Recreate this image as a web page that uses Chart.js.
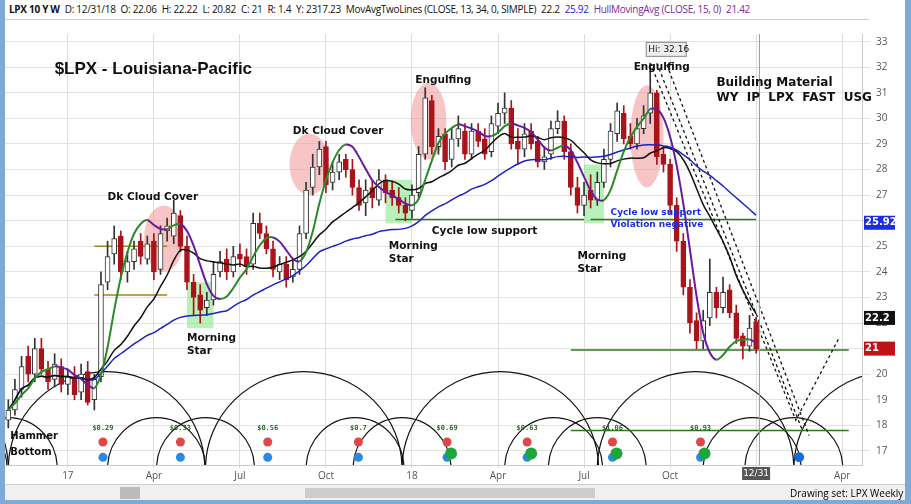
<!DOCTYPE html>
<html><head><meta charset="utf-8">
<script src="https://cdn.jsdelivr.net/npm/chart.js@4.4.1/dist/chart.umd.min.js"></script>
<style>
body{margin:0;width:911px;height:504px;overflow:hidden;background:#fff;font-family:"Open Sans",sans-serif;position:relative}
#frame{position:absolute;left:0;top:0;width:911px;height:504px;box-sizing:border-box;border-left:5px solid #7ea9d8;border-right:6px solid #7ea9d8;border-bottom:4px solid #7ea9d8}
#hdr{position:absolute;left:5px;top:0;width:860px;height:19px;border-bottom:1px solid #ccc;font-size:10px;line-height:19px;white-space:nowrap;color:#111;padding-left:4px;font-family:"Open Sans";letter-spacing:-0.3px}
#hdr span{margin-right:5px}
#cw{position:absolute;left:5px;top:20px;width:893px;height:464px}
#tb{position:absolute;left:5px;top:484px;width:900px;height:16px;background:#f0f0f0;border-top:1px solid #ccc;font-size:10px;line-height:16px}
</style></head><body>
<div id="hdr"><span><b>LPX 10 Y W</b></span><span>D: 12/31/18</span><span>O: 22.06</span><span>H: 22.22</span><span>L: 20.82</span><span>C: 21</span><span>R: 1.4</span><span>Y: 2317.23</span><span>MovAvgTwoLines (CLOSE, 13, 34, 0, SIMPLE)</span><span>22.2</span><span style="color:#2222cc">25.92</span><span style="color:#7a2a9a">HullMovingAvg (CLOSE, 15, 0)</span><span style="color:#7a2a9a">21.42</span></div>
<div id="cw"><canvas id="c"></canvas></div>
<div id="tb"><div style="position:absolute;left:115px;top:2px;width:20px;height:12px;background:#bbb"></div><div style="position:absolute;left:300px;top:3px;width:290px;height:10px;background:#ccc"></div><span style="position:absolute;left:785px">Drawing set: LPX Weekly</span></div>
<div id="frame"></div>
<script>
// weekly bars, index 0 = week of 2016-10-31
const opens=[18.2,18.6,19.4,20.7,20.0,21.0,20.2,19.8,20.3,
19.6,19.9,19.3,20.1,19.0,19.9,23.6,24.7,
25.4,24.0,24.4,25.2,24.5,25.2,24.1,25.6,25.4,
26.2,25.0,23.6,23.1,22.6,22.9,24.0,24.5,
24.0,24.7,24.6,24.3,25.9,25.5,24.9,24.0,24.3,23.8,
24.1,25.5,27.3,28.1,28.9,27.5,27.9,28.4,28.0,27.3,26.7,27.3,26.8,
27.6,27.2,26.9,26.6,26.4,
27.1,28.6,30.7,28.9,29.4,28.4,29.2,29.5,
28.6,29.5,29.2,28.7,29.7,30.2,30.4,29.1,28.8,
29.5,29.1,28.3,28.6,29.6,29.9,28.7,27.3,26.6,
27.2,26.8,27.5,28.4,29.4,30.2,
29.3,29.0,29.6,30.2,31.0,28.6,
28.2,26.6,25.2,23.4,22.1,
21.3,22.2,23.2,22.6,23.3,
22.4,21.5,21.1,22.06];
const highs=[19.0,19.8,20.7,21.1,21.4,21.4,20.5,20.8,20.6,
20.2,20.3,20.4,20.5,20.0,24.0,25.2,25.8,
25.6,24.8,25.2,25.5,25.4,25.5,25.8,26.1,26.8,
26.4,25.4,23.9,23.5,23.2,24.4,24.8,24.9,
25.0,25.1,24.9,26.3,26.3,25.8,25.2,24.6,24.6,24.5,
25.8,27.5,28.6,29.1,29.1,28.3,28.6,28.6,28.4,27.6,27.6,27.6,28.0,
27.8,27.5,27.3,26.9,27.4,
28.9,31.2,30.9,29.6,29.6,29.6,30.1,29.8,
29.8,29.8,29.6,30.1,30.6,31.0,30.7,29.6,29.8,
29.8,29.3,28.9,29.9,30.3,30.1,29.0,27.7,27.5,
27.8,27.9,28.8,29.8,30.6,30.5,
29.8,30.0,30.5,32.16,31.1,28.9,
28.4,26.9,25.5,23.7,22.4,
22.5,24.5,23.4,23.8,23.5,
22.7,21.6,22.3,22.22];
const lows=[17.9,18.4,19.1,19.7,19.7,20.0,19.4,19.5,19.3,
19.2,19.0,19.0,18.8,18.6,19.7,23.3,24.3,
23.7,23.6,24.1,24.3,24.3,23.7,23.9,25.2,25.1,
24.8,23.3,22.3,22.0,22.3,22.7,23.8,23.7,
23.8,24.2,23.9,24.1,25.3,24.7,23.8,23.7,23.4,23.6,
23.9,25.3,27.0,27.8,27.1,27.2,27.6,27.7,27.0,26.4,26.2,26.5,26.6,
26.7,26.6,26.3,26.0,26.1,
26.9,28.4,28.6,28.6,28.0,28.1,28.9,28.4,
28.4,28.9,28.4,28.5,29.4,29.8,28.8,28.2,28.5,
28.8,28.1,28.0,28.4,29.4,28.4,27.0,26.3,26.2,
26.5,26.6,27.3,28.1,29.1,29.0,
28.8,28.8,29.4,29.8,28.2,27.9,
26.3,24.8,23.1,21.6,21.0,
21.0,21.9,22.2,22.4,22.2,
21.2,20.6,20.9,20.82];
const closes=[18.6,19.4,20.3,20.0,21.0,20.2,19.7,20.4,19.6,
19.9,19.2,20.0,18.9,19.8,23.5,24.6,25.3,
24.0,24.4,24.9,24.6,25.1,24.0,25.5,25.8,26.3,
25.0,23.6,23.0,22.5,22.9,23.9,24.4,24.0,
24.6,24.5,24.2,25.9,25.5,24.9,24.1,24.3,23.7,24.1,
25.5,27.2,28.1,28.8,27.4,27.9,28.3,28.0,27.3,26.6,27.2,26.9,27.6,
27.1,26.9,26.6,26.3,27.0,
28.6,30.8,28.9,29.3,28.3,29.2,29.6,28.6,
29.5,29.1,28.6,29.8,30.2,30.4,29.0,28.8,29.4,
29.0,28.3,28.5,29.6,29.9,28.7,27.3,26.6,27.0,
26.8,27.5,28.4,29.5,30.3,29.2,
29.0,29.6,30.1,31.0,28.5,28.2,
26.6,25.2,23.4,22.0,21.3,
22.1,23.2,22.6,23.2,22.4,
21.4,21.1,21.8,21.0];
const tickWeeks=[9,22,35,48,61,74,87,100,113,126];
const tickLabels=["17","Apr","Jul","Oct","18","Apr","Jul","Oct","12/31","Apr"];
const cycleLows=[0,29.8,59.5,89,118.7];
const halfCycleLows=[15,45,75,105];
const lastMarkers=[{v:25.92,c:"#1a2ee0"},{v:22.2,c:"#111"},{v:21,c:"#c0111a"}];
const divWeeks=[14.3,26,39.2,52.9,66.3,78.4,91.3,104.6];
const divLabels=["$0.29","$0.33","$0.56","$0.7","$0.69","$0.63","$1.06","$0.93"];
const notes=[
 {t:"$LPX - Louisiana-Pacific",w:7,p:31.9,f:"bold 17px Liberation Sans"},
 {t:"Dk Cloud Cover",w:15,p:26.9,f:"bold 10.5px DejaVu Sans"},
 {t:"Dk Cloud Cover",w:43,p:29.5,f:"bold 10.5px DejaVu Sans"},
 {t:"Engulfing",w:61.5,p:31.5,f:"bold 10.5px DejaVu Sans"},
 {t:"Engulfing",w:94.5,p:32.0,f:"bold 10.5px DejaVu Sans"},
 {t:"Morning",w:27,p:21.4,f:"bold 10.5px DejaVu Sans"},{t:"Star",w:27,p:20.9,f:"bold 10.5px DejaVu Sans"},
 {t:"Morning",w:57.5,p:25.0,f:"bold 10.5px DejaVu Sans"},{t:"Star",w:57.5,p:24.5,f:"bold 10.5px DejaVu Sans"},
 {t:"Morning",w:86,p:24.6,f:"bold 10.5px DejaVu Sans"},{t:"Star",w:86,p:24.1,f:"bold 10.5px DejaVu Sans"},
 {t:"Cycle low support",w:64,p:25.6,f:"bold 10.5px DejaVu Sans"},
 {t:"Building Material",w:107,p:31.4,f:"bold 12px DejaVu Sans"},
 {t:"WY  IP  LPX  FAST  USG",w:107,p:30.8,f:"bold 12px DejaVu Sans"},
 {t:"Hammer",w:0.3,p:17.55,f:"bold 10px DejaVu Sans"},{t:"Bottom",w:0.3,p:16.95,f:"bold 10px DejaVu Sans"}];
const blueNotes=[{t:"Cycle low support",w:91,p:26.3},{t:"Violation negative",w:91,p:25.85}];
const hLines=[{w0:13,w1:24,p:25.0,c:"#a08a10"},{w0:13,w1:24,p:23.1,c:"#a08a10"},{w0:58.5,w1:87,p:26.05,c:"#2a7a1a"},
 {w0:88,w1:113,p:26.05,c:"#2a7a1a"},{w0:85,w1:127,p:20.95,c:"#2a7a1a"},{w0:85,w1:127,p:17.8,c:"#2a7a1a"}];
const pinks=[{w:23.5,p:25.3,rw:3,rp:1.3},{w:45.5,p:28.2,rw:3,rp:1.2},{w:63.5,p:29.9,rw:2.7,rp:1.5},{w:96.5,p:29.3,rw:2.5,rp:2}];
const greens=[{w0:27,w1:31,p0:21.8,p1:23.6},{w0:57,w1:61,p0:25.9,p1:27.6},{w0:87,w1:90,p0:25.9,p1:28.2}];
const projections=[[[97,32.16],[119,18.2],[125.5,21.4]],[[98,32.16],[120,17.8]],[[99.5,32.1],[121,17.6]]];

function sma(a,n){return a.map((_,i)=>{const s=a.slice(Math.max(0,i-n+1),i+1);return s.reduce((x,y)=>x+y,0)/s.length;});}
function wma(a,n){return a.map((_,i)=>{let s=0,w=0;for(let k=0;k<n&&i-k>=0;k++){s+=a[i-k]*(n-k);w+=n-k;}return s/w;});}
const s13=sma(closes,13),s34=sma(closes,34);
const w1=wma(closes,7),w2=wma(closes,15);
const hull=wma(w1.map((v,i)=>2*v-w2[i]),4);
const pts=a=>a.map((v,i)=>({x:i,y:v}));

const deco={id:'deco',
 beforeDatasetsDraw(ch){const {ctx,scales:{x,y},chartArea:ca}=ch;ctx.save();
  ctx.beginPath();ctx.rect(ca.left,ca.top,ca.width,ca.height);ctx.clip();
  pinks.forEach(e=>{ctx.fillStyle="rgba(240,150,150,0.55)";ctx.beginPath();
   ctx.ellipse(x.getPixelForValue(e.w),y.getPixelForValue(e.p),Math.abs(x.getPixelForValue(e.w+e.rw)-x.getPixelForValue(e.w)),Math.abs(y.getPixelForValue(e.p+e.rp)-y.getPixelForValue(e.p)),0,0,7);ctx.fill();});
  greens.forEach(g=>{ctx.fillStyle="rgba(140,230,140,0.6)";const X0=x.getPixelForValue(g.w0),X1=x.getPixelForValue(g.w1),Y0=y.getPixelForValue(g.p1),Y1=y.getPixelForValue(g.p0);ctx.fillRect(X0,Y0,X1-X0,Y1-Y0);});
  ctx.strokeStyle="#111";ctx.lineWidth=1.2;
  const base=y.getPixelForValue(16.3);
  const arc=(a,b,top)=>{const xa=x.getPixelForValue(a),xb=x.getPixelForValue(b),cx=(xa+xb)/2,rx=(xb-xa)/2,ry=base-y.getPixelForValue(top);ctx.beginPath();ctx.ellipse(cx,base,rx,ry,0,Math.PI,2*Math.PI);ctx.stroke();};
  for(let i=0;i<cycleLows.length;i++){const a=cycleLows[i];arc(a,a+29.7,20.1);}
  arc(-29.7,0,20.1);
  [-15].concat(halfCycleLows,[135]).forEach(a=>arc(a,a+14.8,18.3));
  cycleLows.forEach(a=>arc(a-7.4,a+7.4,18.3));
  hLines.forEach(h=>{ctx.strokeStyle=h.c;ctx.lineWidth=1.5;ctx.beginPath();ctx.moveTo(x.getPixelForValue(h.w0),y.getPixelForValue(h.p));ctx.lineTo(x.getPixelForValue(h.w1),y.getPixelForValue(h.p));ctx.stroke();});
  ctx.setLineDash([3,3]);ctx.strokeStyle="#111";ctx.lineWidth=1.3;
  projections.forEach(pl=>{ctx.beginPath();pl.forEach((p,i)=>{const X=x.getPixelForValue(p[0]),Y=y.getPixelForValue(p[1]);i?ctx.lineTo(X,Y):ctx.moveTo(X,Y);});ctx.stroke();});
  ctx.setLineDash([]);
  ctx.strokeStyle="#999";ctx.lineWidth=1;const xc=x.getPixelForValue(113.5);ctx.beginPath();ctx.moveTo(xc,ca.top);ctx.lineTo(xc,ca.bottom);ctx.stroke();
  ctx.font="bold 7px DejaVu Sans Mono";ctx.textAlign="center";
  divWeeks.forEach((w,i)=>{const X=x.getPixelForValue(w);ctx.fillStyle="#2a6a2a";ctx.fillText(divLabels[i],X,y.getPixelForValue(17.8));
   ctx.fillStyle="#e04848";ctx.beginPath();ctx.arc(X,y.getPixelForValue(17.35),4.5,0,7);ctx.fill();
   ctx.fillStyle="#2a8ae0";ctx.beginPath();ctx.arc(X,y.getPixelForValue(16.75),4.5,0,7);ctx.fill();
   if(i>=4){ctx.fillStyle="#1fa63a";ctx.beginPath();ctx.arc(X+4,y.getPixelForValue(16.9),6,0,7);ctx.fill();}});
  ctx.fillStyle="#1a6ad8";ctx.beginPath();ctx.arc(x.getPixelForValue(119.5),y.getPixelForValue(16.75),5,0,7);ctx.fill();
  ctx.restore();},
 afterDatasetsDraw(ch){const {ctx,scales:{x,y},chartArea:ca}=ch;ctx.save();ctx.textAlign="left";ctx.textBaseline="middle";ctx.fillStyle="#111";
  notes.forEach(n=>{ctx.font=n.f;ctx.fillText(n.t,x.getPixelForValue(n.w),y.getPixelForValue(n.p));});
  ctx.fillStyle="#1a2ee0";ctx.font="bold 9px DejaVu Sans";
  blueNotes.forEach(n=>ctx.fillText(n.t,x.getPixelForValue(n.w),y.getPixelForValue(n.p)));
  const hx=x.getPixelForValue(97),hy=y.getPixelForValue(32.7);ctx.fillStyle="#eee";ctx.strokeStyle="#888";ctx.fillRect(hx-4,hy-7,40,14);ctx.strokeRect(hx-4,hy-7,40,14);
  ctx.fillStyle="#111";ctx.font="9px DejaVu Sans";ctx.fillText("Hi: 32.16",hx-2,hy);
  ctx.font="bold 10px DejaVu Sans";
  lastMarkers.forEach(m=>{const Y=y.getPixelForValue(m.v);ctx.fillStyle=m.c;ctx.fillRect(ca.right+2,Y-7,31,14);ctx.fillStyle="#fff";ctx.fillText(String(m.v),ca.right+3,Y);});
  const X=x.getPixelForValue(113);ctx.fillStyle="#555";ctx.fillRect(X-14,ca.bottom+2,28,13);ctx.fillStyle="#fff";ctx.font="9px DejaVu Sans";ctx.textAlign="center";ctx.fillText("12/31",X,ca.bottom+9);
  ctx.restore();}};

new Chart(document.getElementById('c'),{
 data:{datasets:[
  {type:'bar',data:highs.map((h,i)=>({x:i,y:[lows[i],h]})),backgroundColor:highs.map((h,i)=>closes[i]>=opens[i]?"#333":"#a8141a"),barThickness:1,grouped:false,order:5},
  {type:'bar',data:opens.map((o,i)=>({x:i,y:[o,closes[i]]})),backgroundColor:opens.map((o,i)=>closes[i]>=o?"#fff":"#a8141a"),borderColor:opens.map((o,i)=>closes[i]>=o?"#333":"#a8141a"),borderWidth:1,borderSkipped:false,barThickness:5,grouped:false,order:4},
  {type:'line',data:pts(s34),borderColor:"#1a22c8",borderWidth:1.5,pointRadius:0,tension:0.3,order:3},
  {type:'line',data:pts(s13),borderColor:"#111",borderWidth:1.5,pointRadius:0,tension:0.3,order:2},
  {type:'line',data:pts(hull),borderWidth:2,pointRadius:0,tension:0.3,order:1,
   segment:{borderColor:c=>c.p1.parsed.y>=c.p0.parsed.y?"#2a8a2a":"#6a1aa0"}}
 ]},
 options:{responsive:true,maintainAspectRatio:false,animation:false,
  layout:{padding:{left:0,top:14,bottom:0,right:0}},
  plugins:{legend:{display:false},tooltip:{enabled:false}},
  scales:{
   x:{type:'linear',min:-0.5,max:129,offset:false,
    afterBuildTicks:s=>{s.ticks=tickWeeks.map(v=>({value:v}));},
    ticks:{autoSkip:false,maxRotation:0,font:{size:10,family:"Open Sans"},color:"#555",padding:2,callback:(v)=>{const i=tickWeeks.indexOf(v);return i===8?"":tickLabels[i];}},
    grid:{color:"#ddd",tickLength:3,offset:false},border:{display:true,color:"#ccc"}},
   y:{position:'right',min:16.45,max:33.3,
    afterBuildTicks:s=>{const t=[];for(let v=17;v<=33;v++)t.push({value:v});s.ticks=t;},
    ticks:{font:{size:10,family:"Open Sans"},color:"#555",padding:6},
    afterFit:s=>{s.width=36;},
    grid:{color:"#e2e2e2"},border:{display:true,color:"#ccc"}}
  }},
 plugins:[deco]
});
</script></body></html>
